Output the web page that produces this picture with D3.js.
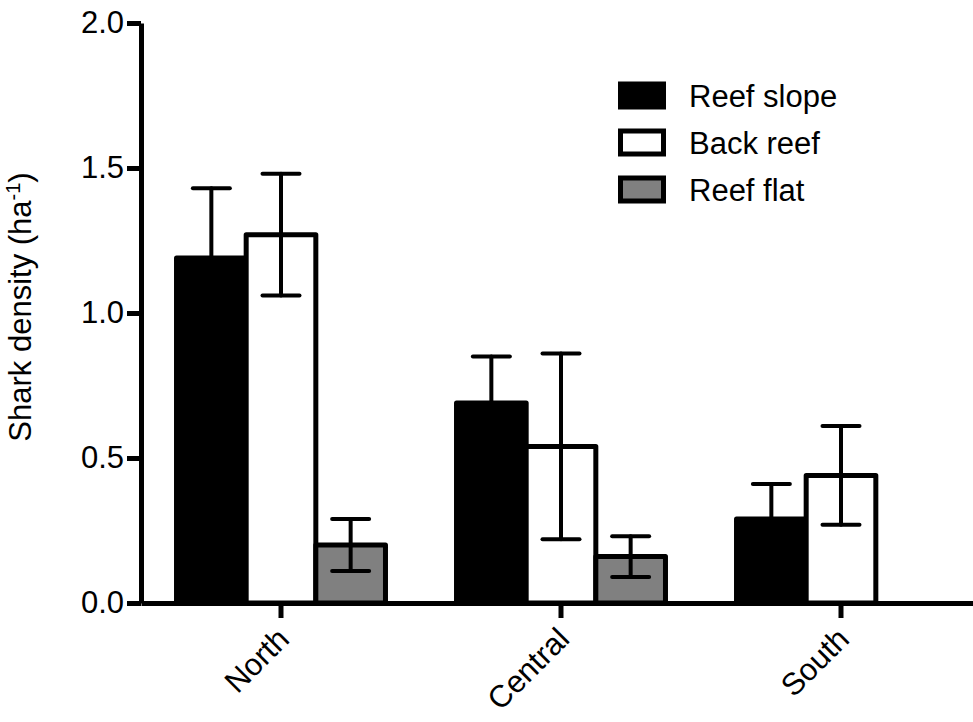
<!DOCTYPE html>
<html>
<head>
<meta charset="utf-8">
<script src="https://cdn.jsdelivr.net/npm/d3@7"></script>
<style>
  html, body { margin: 0; padding: 0; background: #fff; }
  svg { display: block; }
  text { font-family: "Liberation Sans", Arial, Helvetica, sans-serif; fill: #000; }
</style>
</head>
<body>
<svg id="chart" width="973" height="722"></svg>
<script>
// Regions along the x axis
const regions = ["North", "Central", "South"];
// Habitat series
const habitats = ["Reef slope", "Back reef", "Reef flat"];
const habitatFill = ["#000000", "#ffffff", "#808080"];
// Mean shark density (ha^-1) per habitat, in region order
const reefSlope = [1.19, 0.69, 0.29];
const backReef  = [1.27, 0.54, 0.44];
const reefFlat  = [0.20, 0.16, null];
// Error (±) per habitat, in region order
const reefSlopeErr = [0.24, 0.16, 0.12];
const backReefErr  = [0.21, 0.32, 0.17];
const reefFlatErr  = [0.09, 0.07, null];
// Y tick values
const yTicks = [0, 0.5, 1.0, 1.5, 2.0];

const means = [reefSlope, backReef, reefFlat];
const errs = [reefSlopeErr, backReefErr, reefFlatErr];

const svg = d3.select("#chart");
const FONT = 31;
const LW = 5;

const x0 = d3.scaleBand().domain(regions).range([141, 981]).padding(0);
const x1 = d3.scaleBand().domain(habitats).range([0, x0.bandwidth()]).paddingInner(0).paddingOuter(0.51);
const y = d3.scaleLinear().domain([0, 2]).range([603, 23]);

// bar records
const bars = [];
regions.forEach((r, ri) => {
  habitats.forEach((h, hi) => {
    const v = means[hi][ri];
    if (v == null) return;
    bars.push({ region: r, habitat: h, hi, value: v, err: errs[hi][ri] });
  });
});

const plot = svg.append("g");

plot.selectAll("rect.bar")
  .data(bars)
  .join("rect")
  .attr("class", "bar")
  .attr("x", d => x0(d.region) + x1(d.habitat))
  .attr("width", x1.bandwidth())
  .attr("y", d => y(d.value))
  .attr("height", d => y(0) - y(d.value))
  .attr("fill", d => habitatFill[d.hi])
  .attr("stroke", "#000")
  .attr("stroke-width", LW)
  .attr("stroke-linejoin", "round");

// error bars (black on the black bars is invisible)
const capW = 37;
const cx = d => x0(d.region) + x1(d.habitat) + x1.bandwidth() / 2;
const errG = plot.selectAll("g.err").data(bars).join("g").attr("class", "err")
  .attr("stroke", "#000").attr("stroke-width", 4).attr("stroke-linecap", "round");
errG.append("line")
  .attr("x1", cx).attr("x2", cx)
  .attr("y1", d => y(d.value + d.err))
  .attr("y2", d => y(d.value - d.err));
errG.append("line")
  .attr("x1", d => cx(d) - capW / 2).attr("x2", d => cx(d) + capW / 2)
  .attr("y1", d => y(d.value + d.err)).attr("y2", d => y(d.value + d.err));
errG.append("line")
  .attr("x1", d => cx(d) - capW / 2).attr("x2", d => cx(d) + capW / 2)
  .attr("y1", d => y(d.value - d.err)).attr("y2", d => y(d.value - d.err));

// Y axis
const yAxis = svg.append("g")
  .attr("transform", "translate(141,0)")
  .call(d3.axisLeft(y).tickValues(yTicks).tickFormat(d3.format(".1f")).tickSize(14).tickSizeOuter(0).tickPadding(3));
yAxis.select(".domain").attr("stroke-width", LW);
yAxis.selectAll(".tick line").attr("stroke-width", LW);
yAxis.selectAll(".tick text").style("font-size", FONT + "px").attr("fill", "#000");

// X axis
const xAxis = svg.append("g")
  .attr("transform", "translate(0,603)")
  .call(d3.axisBottom(x0).tickSize(15).tickSizeOuter(0).tickFormat(""));
xAxis.select(".domain").attr("stroke-width", LW);
xAxis.selectAll(".tick line").attr("stroke-width", LW);

// rotated region labels
svg.append("g").selectAll("text")
  .data(regions)
  .join("text")
  .attr("transform", d => `translate(${x0(d) + x0.bandwidth() / 2 + 10},${641}) rotate(-45)`)
  .attr("text-anchor", "end")
  .style("font-size", FONT + "px")
  .text(d => d);

// Y axis title
const yt = svg.append("text")
  .attr("transform", "translate(31,307) rotate(-90)")
  .attr("text-anchor", "middle")
  .style("font-size", FONT + "px");
yt.append("tspan").text("Shark density (ha");
yt.append("tspan").attr("dy", -11).style("font-size", "20px").text("-1");
yt.append("tspan").attr("dy", 11).text(")");

// Legend
const leg = svg.append("g").attr("transform", "translate(620.5,0)");
habitats.forEach((h, i) => {
  const cy = 95.5 + i * 47;
  leg.append("rect")
    .attr("x", 0).attr("y", cy - 11.5)
    .attr("width", 43).attr("height", 23)
    .attr("fill", habitatFill[i])
    .attr("stroke", "#000").attr("stroke-width", LW);
  leg.append("text")
    .attr("x", 68.5).attr("y", cy + 11)
    .style("font-size", FONT + "px")
    .text(h);
});
</script>
</body>
</html>
